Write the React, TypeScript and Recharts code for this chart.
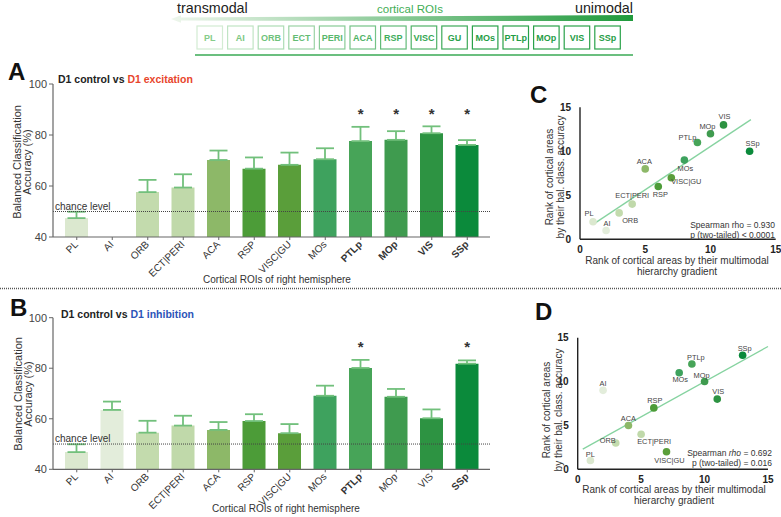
import React from 'react';
import {
  ComposedChart,
  Bar,
  Cell,
  ErrorBar,
  XAxis,
  YAxis,
  ReferenceLine,
  ReferenceDot,
  ScatterChart,
  Scatter,
} from 'recharts';

const FONT = '"Liberation Sans", Arial, sans-serif';

// ROIs on the bar charts (x axis), ordered transmodal -> unimodal
const regions = ['PL', 'AI', 'ORB', 'ECT|PERI', 'ACA', 'RSP', 'VISC|GU', 'MOs', 'PTLp', 'MOp', 'VIS', 'SSp'];

// A: D1 control vs D1 excitation (balanced accuracy %, mean and upper SEM)
const excitationMean = [47.4, 40.0, 57.6, 59.4, 70.2, 66.8, 68.3, 70.5, 77.6, 78.1, 80.7, 76.1];
const excitationSem = [2.5, 3.7, 4.8, 5.2, 3.7, 4.4, 4.8, 4.3, 5.6, 3.4, 2.7, 1.9];
const excitationSig = ['PTLp', 'MOp', 'VIS', 'SSp'];

// B: D1 control vs D1 inhibition
const inhibitionMean = [46.8, 63.5, 54.5, 57.3, 55.6, 59.1, 54.3, 69.1, 80.1, 68.7, 60.2, 81.8];
const inhibitionSem = [3.1, 3.3, 4.7, 3.9, 3.1, 2.7, 3.6, 4.0, 3.2, 3.1, 3.5, 1.3];
const inhibitionSig = ['PTLp', 'SSp'];

// C: rank by hierarchy gradient vs rank by accuracy (excitation)
const hierarchyRankC = [1, 2, 3, 4, 5, 6, 7, 8, 9, 10, 11, 13];
const accuracyRankC = [2, 1, 3, 4, 8, 6, 7, 9, 11, 12, 13, 10];
const fitLineC = [{ x: 1, y: 1.7 }, { x: 13.1, y: 13.6 }];

// D: same for inhibition
const hierarchyRankD = [1, 2, 3, 5, 4, 6, 7, 8, 9, 10, 11, 13];
const accuracyRankD = [1, 9, 3, 4, 5, 7, 2, 11, 12, 10, 8, 13];
const fitLineD = [{ x: 0.4, y: 2.3 }, { x: 15, y: 14.0 }];

const headerRois = ['PL', 'AI', 'ORB', 'ECT', 'PERI', 'ACA', 'RSP', 'VISC', 'GU', 'MOs', 'PTLp', 'MOp', 'VIS', 'SSp'];

const chanceLevel = 50;
const starLevel = 90;
const barTicks = [40, 60, 80, 100];
const rankTicks = [0, 5, 10, 15];

const regionColor: Record<string, string> = {
  PL: '#dbe8cf',
  AI: '#e3eddb',
  ORB: '#c3dbad',
  'ECT|PERI': '#c0d9aa',
  ACA: '#8db868',
  RSP: '#4c9c38',
  'VISC|GU': '#5a9e3a',
  MOs: '#3ea25e',
  PTLp: '#47a458',
  MOp: '#3f9b4f',
  VIS: '#2d9342',
  SSp: '#0b8a3b',
};

// label placement around each scatter dot: [dx, baseline dy]
const labelOffsetC: Record<string, [number, number]> = {
  PL: [-4, -6], AI: [1, -5], ORB: [11, 10], 'ECT|PERI': [0, -6], ACA: [-1, -5], RSP: [2, 10],
  'VISC|GU': [15, 6.5], MOs: [1, 11], PTLp: [-10, -3], MOp: [-3, -5], VIS: [1, -5.5], SSp: [3, -5],
};
const labelOffsetD: Record<string, [number, number]> = {
  PL: [0, -4], AI: [0, -4], ORB: [-8, 0], ACA: [0, -4.5], 'ECT|PERI': [13, 10], 'VISC|GU': [3, 11],
  RSP: [1, -5], MOs: [1, 9.5], PTLp: [4, -4], MOp: [-3, -4], VIS: [1, -5], SSp: [2, -4.5],
};

function mix(a: string, b: string, t: number) {
  const pa = [1, 3, 5].map((i) => parseInt(a.slice(i, i + 2), 16));
  const pb = [1, 3, 5].map((i) => parseInt(b.slice(i, i + 2), 16));
  return `rgb(${pa.map((v, i) => Math.round(v + (pb[i] - v) * t)).join(',')})`;
}

function RoiTick(props: any) {
  const { x, y, payload, boldSet } = props;
  const bold = boldSet.includes(payload.value);
  const ex = x + 2;
  const ey = y + 3;
  return (
    <text
      x={ex}
      y={ey}
      textAnchor="end"
      transform={`rotate(-45 ${ex} ${ey})`}
      fontSize={10}
      fontFamily={FONT}
      fontWeight={bold ? 700 : 400}
      fill="#333"
    >
      {payload.value}
    </text>
  );
}

function StarMark(props: any) {
  const { cx, cy } = props;
  return (
    <text x={cx} y={cy + 9} textAnchor="middle" fontSize={15} fontWeight={700} fontFamily={FONT} fill="#333">
      *
    </text>
  );
}

interface AccuracyProps {
  means: number[];
  sems: number[];
  sig: string[];
  top: number;
  height: number;
  marginTop: number;
  marginBottom: number;
}

function AccuracyPanel({ means, sems, sig, top, height, marginTop, marginBottom }: AccuracyProps) {
  const rows = regions.map((r, i) => ({ region: r, mean: means[i], err: [0, sems[i]] }));
  return (
    <div style={{ position: 'absolute', left: 0, top, width: 500, height }}>
      <ComposedChart
        width={500}
        height={height}
        data={rows}
        margin={{ top: marginTop, right: 10, bottom: marginBottom, left: 0 }}
      >
        <XAxis
          dataKey="region"
          interval={0}
          height={40}
          padding={{ left: 6, right: 5 }}
          axisLine={{ stroke: '#666', strokeWidth: 1.2 }}
          tickLine={{ stroke: '#666' }}
          tickSize={3}
          tick={<RoiTick boldSet={sig} />}
        />
        <YAxis
          domain={[40, 100]}
          ticks={barTicks}
          allowDataOverflow
          width={53}
          tickSize={4}
          axisLine={{ stroke: '#666', strokeWidth: 1.2 }}
          tickLine={{ stroke: '#666' }}
          tick={{ fontSize: 11, fill: '#444', fontFamily: FONT }}
        />
        <Bar dataKey="mean" barSize={23} isAnimationActive={false}>
          {rows.map((r) => (
            <Cell key={r.region} fill={regionColor[r.region]} />
          ))}
          <ErrorBar dataKey="err" direction="y" width={9} stroke="#72c07c" strokeWidth={1.8} />
        </Bar>
        <ReferenceLine
          y={chanceLevel}
          stroke="#444"
          strokeDasharray="1 1"
          label={{ value: 'chance level', position: 'insideBottomLeft', offset: 2, fontSize: 10, fill: '#333', fontFamily: FONT }}
        />
        {sig.map((r) => (
          <ReferenceDot key={r} x={r} y={starLevel} r={0} shape={StarMark} />
        ))}
      </ComposedChart>
    </div>
  );
}

function RankDot(props: any) {
  const { cx, cy, payload, offsets } = props;
  const [dx, dy] = offsets[payload.name];
  return (
    <g>
      <circle cx={cx} cy={cy} r={3.8} fill={regionColor[payload.name]} />
      <text x={cx + dx} y={cy + dy} textAnchor="middle" fontSize={7.4} fontFamily={FONT} fill="#444">
        {payload.name}
      </text>
    </g>
  );
}

interface RankProps {
  hier: number[];
  acc: number[];
  fit: { x: number; y: number }[];
  top: number;
  margin: { top: number; right: number; bottom: number; left: number };
  yWidth: number;
  offsets: Record<string, [number, number]>;
}

function RankPanel({ hier, acc, fit, top, margin, yWidth, offsets }: RankProps) {
  const pts = regions.map((r, i) => ({ name: r, x: hier[i], y: acc[i] }));
  const tickStyle = { fontSize: 10, fontWeight: 700, fill: '#222', fontFamily: FONT };
  return (
    <div style={{ position: 'absolute', left: 530, top, width: 251, height: 200 }}>
      <ScatterChart width={251} height={200} margin={margin}>
        <XAxis
          type="number"
          dataKey="x"
          domain={[0, 15]}
          ticks={rankTicks}
          height={16}
          tickLine={false}
          tickMargin={1}
          axisLine={{ stroke: '#222', strokeWidth: 1.4 }}
          tick={tickStyle}
        />
        <YAxis
          type="number"
          dataKey="y"
          domain={[0, 15]}
          ticks={rankTicks}
          width={yWidth}
          tickLine={false}
          tickMargin={3}
          axisLine={{ stroke: '#222', strokeWidth: 1.4 }}
          tick={tickStyle}
        />
        <ReferenceLine segment={fit} stroke="#86d3a0" strokeWidth={1.3} ifOverflow="visible" />
        <Scatter data={pts} isAnimationActive={false} shape={(p: any) => <RankDot {...p} offsets={offsets} />} />
      </ScatterChart>
    </div>
  );
}

function Overlay() {
  const t = (i: number) => Math.min(1, i / 9);
  return (
    <svg
      width={781}
      height={517}
      style={{ position: 'absolute', left: 0, top: 0, pointerEvents: 'none' }}
      fontFamily={FONT}
    >
      <defs>
        <linearGradient id="hdrGrad" x1="0" x2="1" y1="0" y2="0">
          <stop offset="0%" stopColor="#eef6ec" />
          <stop offset="100%" stopColor="#1f9a3c" />
        </linearGradient>
      </defs>
      {/* header: transmodal -> unimodal */}
      <text x={177} y={13} fontSize={14.3} fill="#222">transmodal</text>
      <text x={633} y={13} fontSize={14.3} fill="#222" textAnchor="end">unimodal</text>
      <text x={410} y={13} fontSize={11.5} fill="#3fae55" textAnchor="middle">cortical ROIs</text>
      <polygon
        points="171,19 181,15.3 181,17.4 633,15 633,21 181,20.6 181,22.7"
        fill="url(#hdrGrad)"
      />
      {headerRois.map((r, i) => {
        const x = 197 + i * 30.6;
        return (
          <g key={r}>
            <rect
              x={x}
              y={26}
              width={25.5}
              height={23}
              fill="#fff"
              stroke={mix('#d3ecd3', '#2aa24a', t(i))}
              strokeWidth={1.2}
            />
            <text
              x={x + 12.75}
              y={41}
              textAnchor="middle"
              fontSize={9}
              fontWeight={700}
              fill={mix('#86cc8a', '#1f9d45', t(i))}
            >
              {r}
            </text>
          </g>
        );
      })}
      <line x1={195} x2={633} y1={55} y2={55} stroke="#3aaa55" strokeWidth={1.5} />

      {/* divider */}
      <line x1={0} x2={781} y1={288.5} y2={288.5} stroke="#555" strokeWidth={1.3} strokeDasharray="1 1" />

      {/* panel A */}
      <text x={8} y={80} fontSize={24} fontWeight={700} fill="#111">A</text>
      <text x={58} y={83} fontSize={10.5} fontWeight={700}>
        <tspan fill="#222">D1 control vs </tspan>
        <tspan fill="#e8452c">D1 excitation</tspan>
      </text>
      <text x={20.5} y={162} fontSize={11} fill="#333" textAnchor="middle" transform="rotate(-90 20.5 162)">
        Balanced Classification
      </text>
      <text x={31} y={162} fontSize={11} fill="#333" textAnchor="middle" transform="rotate(-90 31 162)">
        Accuracy (%)
      </text>
      <text x={277} y={283} fontSize={10} fill="#333" textAnchor="middle">Cortical ROIs of right hemisphere</text>

      {/* panel B */}
      <text x={10} y={316} fontSize={24} fontWeight={700} fill="#111">B</text>
      <text x={61} y={318} fontSize={10.5} fontWeight={700}>
        <tspan fill="#222">D1 control vs </tspan>
        <tspan fill="#2b54b8">D1 inhibition</tspan>
      </text>
      <text x={21.5} y={394} fontSize={11} fill="#333" textAnchor="middle" transform="rotate(-90 21.5 394)">
        Balanced Classification
      </text>
      <text x={32} y={394} fontSize={11} fill="#333" textAnchor="middle" transform="rotate(-90 32 394)">
        Accuracy (%)
      </text>
      <text x={286} y={512} fontSize={10} fill="#333" textAnchor="middle">Cortical ROIs of right hemisphere</text>

      {/* panel C */}
      <text x={530} y={103} fontSize={24} fontWeight={700} fill="#111">C</text>
      <text x={552.5} y={177} fontSize={10} fill="#333" textAnchor="middle" transform="rotate(-90 552.5 177)">
        Rank of cortical areas
      </text>
      <text x={564} y={177} fontSize={10} fill="#333" textAnchor="middle" transform="rotate(-90 564 177)">
        by their bal. class. accuracy
      </text>
      <text x={677} y={264} fontSize={10} fill="#333" textAnchor="middle">Rank of cortical areas by their multimodal</text>
      <text x={677} y={275} fontSize={10} fill="#333" textAnchor="middle">hierarchy gradient</text>
      <text x={775} y={228} fontSize={8.5} fill="#333" textAnchor="end">Spearman rho = 0.930</text>
      <text x={775} y={237.5} fontSize={8.5} fill="#333" textAnchor="end">p (two-tailed) &lt; 0.0001</text>

      {/* panel D */}
      <text x={535} y={320} fontSize={24} fontWeight={700} fill="#111">D</text>
      <text x={549.5} y={410} fontSize={10} fill="#333" textAnchor="middle" transform="rotate(-90 549.5 410)">
        Rank of cortical areas
      </text>
      <text x={562} y={410} fontSize={10} fill="#333" textAnchor="middle" transform="rotate(-90 562 410)">
        by their bal. class. accuracy
      </text>
      <text x={674} y={493} fontSize={10} fill="#333" textAnchor="middle">Rank of cortical areas by their multimodal</text>
      <text x={674} y={504} fontSize={10} fill="#333" textAnchor="middle">hierarchy gradient</text>
      <text x={772} y={456} fontSize={8.5} fill="#333" textAnchor="end">
        Spearman <tspan fontStyle="italic">rho</tspan> = 0.692
      </text>
      <text x={772} y={466} fontSize={8.5} fill="#333" textAnchor="end">p (two-tailed) = 0.016</text>
    </svg>
  );
}

export default function App() {
  return (
    <div
      style={{
        position: 'absolute',
        left: 0,
        top: 0,
        width: 781,
        height: 517,
        background: '#fff',
        fontFamily: FONT,
        overflow: 'hidden',
      }}
    >
      <AccuracyPanel
        means={excitationMean}
        sems={excitationSem}
        sig={excitationSig}
        top={70}
        height={220}
        marginTop={14}
        marginBottom={13}
      />
      <AccuracyPanel
        means={inhibitionMean}
        sems={inhibitionSem}
        sig={inhibitionSig}
        top={300}
        height={217}
        marginTop={17.7}
        marginBottom={7.7}
      />
      <RankPanel
        hier={hierarchyRankC}
        acc={accuracyRankC}
        fit={fitLineC}
        top={80}
        margin={{ top: 27.3, right: 5.3, bottom: 24.7, left: 0 }}
        yWidth={50}
        offsets={labelOffsetC}
      />
      <RankPanel
        hier={hierarchyRankD}
        acc={accuracyRankD}
        fit={fitLineD}
        top={300}
        margin={{ top: 37.7, right: 13, bottom: 14.7, left: 0 }}
        yWidth={47.7}
        offsets={labelOffsetD}
      />
      <Overlay />
    </div>
  );
}
